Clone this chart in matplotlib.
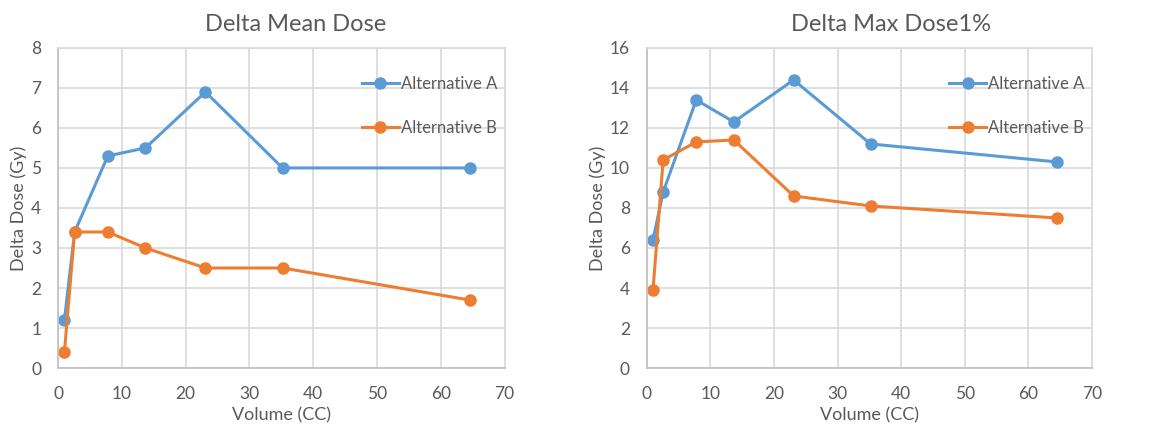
import numpy as np
import matplotlib.pyplot as plt

plt.rcParams['font.family'] = ['Lato', 'DejaVu Sans']

volume = [1.0, 2.6, 7.8, 13.7, 23.1, 35.2, 64.5]
mean_a = [1.2, 3.4, 5.3, 5.5, 6.9, 5.0, 5.0]
mean_b = [0.4, 3.4, 3.4, 3.0, 2.5, 2.5, 1.7]
max_a = [6.4, 8.8, 13.4, 12.3, 14.4, 11.2, 10.3]
max_b = [3.9, 10.4, 11.3, 11.4, 8.6, 8.1, 7.5]

blue = '#5B9BD5'
orange = '#ED7D31'
txt = '#595959'
grid = '#D9D9D9'

fig = plt.figure(figsize=(11.63, 4.24), dpi=100)
ax1 = fig.add_axes([0.0499, 0.132, 0.384, 0.755])
ax2 = fig.add_axes([0.556, 0.132, 0.383, 0.755])


def style(ax, a, b, ymax, ystep, title, title_x):
    ax.plot(volume, a, color=blue, lw=2.2, marker='o', ms=8, label='Alternative A')
    ax.plot(volume, b, color=orange, lw=2.2, marker='o', ms=8, label='Alternative B')
    ax.set_xlim(0, 70)
    ax.set_ylim(0, ymax)
    ax.set_xticks(np.arange(0, 71, 10))
    ax.set_yticks(np.arange(0, ymax + 1, ystep))
    ax.grid(True, color=grid, lw=1.2)
    ax.set_axisbelow(True)
    for s in ['top', 'right']:
        ax.spines[s].set_color(grid)
        ax.spines[s].set_linewidth(1.2)
    for s in ['left', 'bottom']:
        ax.spines[s].set_color('#BFBFBF')
        ax.spines[s].set_linewidth(1.2)
    ax.tick_params(length=0, labelsize=12.5, colors=txt)
    ax.tick_params(axis='x', pad=13)
    ax.tick_params(axis='y', pad=12)
    ax.set_xlabel('Volume (CC)', fontsize=13, color=txt, labelpad=4)
    ax.set_ylabel('Delta Dose (Gy)', fontsize=13, color=txt, labelpad=3)
    fig.text(title_x, 0.943, title, fontsize=17, color=txt, ha='center', va='center')
    ax.legend(loc='upper right', bbox_to_anchor=(1.01, 0.95), frameon=False,
              fontsize=12, labelcolor=txt, handlelength=2.2, handletextpad=0.15,
              labelspacing=1.7, borderaxespad=0.3)


style(ax1, mean_a, mean_b, 8, 1, 'Delta Mean Dose', 0.254)
style(ax2, max_a, max_b, 16, 2, 'Delta Max Dose1%', 0.766)

fig.savefig('out.png', dpi=100)
